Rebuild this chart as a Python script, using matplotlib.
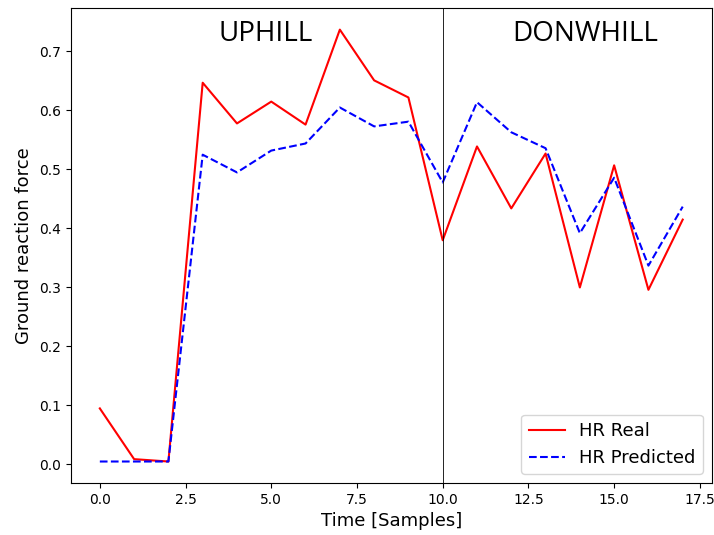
import numpy as np
import matplotlib
matplotlib.use("Agg")
import matplotlib.pyplot as plt

# Ground reaction force, real vs predicted
samples = np.arange(18)
hr_real = [0.095, 0.009, 0.005, 0.647, 0.578, 0.615, 0.576, 0.737, 0.651,
           0.622, 0.380, 0.539, 0.434, 0.527, 0.300, 0.507, 0.296, 0.415]
hr_pred = [0.005, 0.005, 0.005, 0.525, 0.495, 0.532, 0.544, 0.605, 0.573,
           0.581, 0.478, 0.614, 0.563, 0.536, 0.392, 0.486, 0.337, 0.437]
split_at = 10

fig = plt.figure(figsize=(7.14, 5.35), dpi=100)
ax = fig.add_subplot(111)
fig.subplots_adjust(left=0.099, right=0.997, top=0.985, bottom=0.097)

ax.plot(samples, hr_real, color="red", linestyle="-", label="HR Real")
ax.plot(samples, hr_pred, color="blue", linestyle="--", label="HR Predicted")
ax.axvline(split_at, color="black", linewidth=0.6)

ax.text(4.85, 0.73, "UPHILL", fontsize=20, family="Open Sans", ha="center", va="center")
ax.text(14.15, 0.73, "DONWHILL", fontsize=20, family="Open Sans", ha="center", va="center")

ax.set_xlabel("Time [Samples]", fontsize=13)
ax.set_ylabel("Ground reaction force", fontsize=13)
ax.legend(loc="lower right", fontsize=13)

fig.savefig("out.png", dpi=100)
plt.close(fig)
